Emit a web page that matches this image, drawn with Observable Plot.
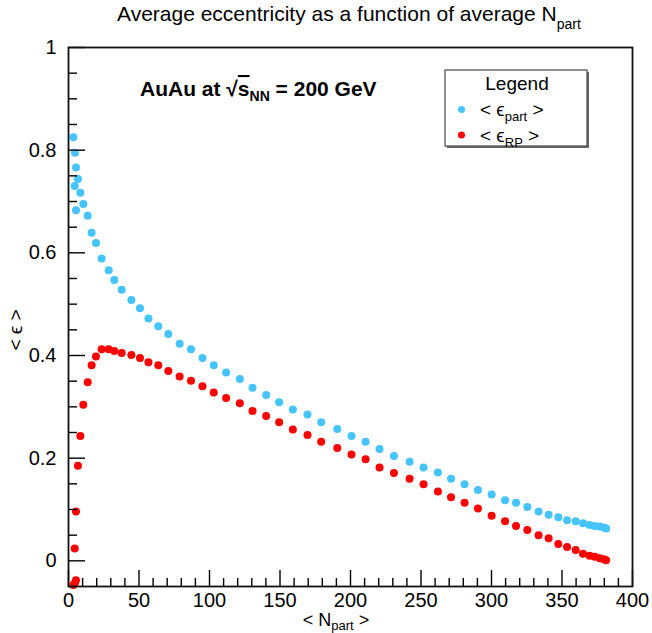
<!DOCTYPE html>
<html>
<head>
<meta charset="utf-8">
<script src="https://cdn.jsdelivr.net/npm/d3@7"></script>
<script src="https://cdn.jsdelivr.net/npm/@observablehq/plot@0.6"></script>
<style>
  html, body { margin: 0; padding: 0; background: white; }
  #chart { width: 652px; height: 633px; }
</style>
</head>
<body>
<div id="chart"></div>
<script>
// <N_part> per bin (shared by both series)
const nPart = [3.4, 4.6, 5.3, 6.7, 4.4, 8.4, 10.5, 5.3, 13.6,
  16.4, 19.5, 23.5, 28.5, 32.5, 37.7, 44.6, 50.7, 56.7,
  63.7, 70.8, 78.8, 86.9, 95.0, 103.0, 111.8, 121.5,
  130.5, 140.2, 149.4, 159.1, 169.5, 179.2, 190.6, 200.7, 210.7, 220.6,
  230.8, 241.9, 251.8, 262.0, 271.3, 280.9, 290.4, 300.1, 309.6, 317.4,
  325.4, 333.4, 340.5, 347.4, 353.6, 359.7, 364.9, 369.6, 373.2, 376.7,
  379.6, 381.3];

// <eps_part>
const epsPart = [0.825, 0.795, 0.766, 0.744, 0.730, 0.717, 0.695, 0.683, 0.672,
  0.639, 0.619, 0.589, 0.566, 0.547, 0.528, 0.508, 0.492, 0.472,
  0.457, 0.442, 0.423, 0.412, 0.395, 0.381, 0.367, 0.354,
  0.337, 0.323, 0.309, 0.295, 0.285, 0.270, 0.257, 0.243, 0.232, 0.218,
  0.204, 0.193, 0.182, 0.172, 0.160, 0.149, 0.138, 0.129, 0.118, 0.113,
  0.105, 0.096, 0.090, 0.085, 0.079, 0.077, 0.073, 0.070, 0.068, 0.067,
  0.065, 0.063];

// <eps_RP>
const epsRP = [-0.047, -0.043, -0.038, 0.185, 0.024, 0.243, 0.304, 0.096, 0.348,
  0.381, 0.398, 0.412, 0.412, 0.409, 0.405, 0.401, 0.395, 0.387,
  0.381, 0.370, 0.359, 0.351, 0.340, 0.328, 0.317, 0.307,
  0.292, 0.282, 0.270, 0.256, 0.245, 0.232, 0.220, 0.207, 0.198, 0.182,
  0.171, 0.160, 0.149, 0.135, 0.124, 0.113, 0.102, 0.088, 0.077, 0.068,
  0.060, 0.050, 0.044, 0.033, 0.027, 0.021, 0.014, 0.010, 0.008, 0.005,
  0.003, 0.001];

const xMajorTicks = [0, 50, 100, 150, 200, 250, 300, 350, 400];
const xMinorTicks = d3.range(0, 401, 10).filter(v => v % 50 !== 0);
const yMajorTicks = [0, 0.2, 0.4, 0.6, 0.8, 1];
const yMinorTicks = [-0.05, 0.05, 0.1, 0.15, 0.25, 0.3, 0.35, 0.45, 0.5, 0.55, 0.65, 0.7, 0.75, 0.85, 0.9, 0.95];

const colPart = "#45c4ff";
const colRP = "#ff0000";
const FONT = "'Liberation Sans', Arial, Helvetica, sans-serif";

const idx = d3.range(nPart.length);

const chart = Plot.plot({
  width: 652,
  height: 633,
  marginLeft: 68,
  marginRight: 20,
  marginTop: 47,
  marginBottom: 47,
  x: {domain: [0, 400]},
  y: {domain: [-0.05, 1]},
  style: {fontFamily: FONT, fontSize: "20px", color: "#000", background: "white", overflow: "visible"},
  marks: [
    Plot.dot(idx, {x: i => nPart[i], y: i => epsPart[i], r: 4, fill: colPart}),
    Plot.dot(idx, {x: i => nPart[i], y: i => epsRP[i], r: 4, fill: colRP}),
    Plot.axisX({ticks: xMinorTicks, tickSize: -8, text: null, strokeWidth: 1.4, label: null}),
    Plot.axisX({ticks: xMajorTicks, tickSize: -16, text: null, strokeWidth: 1.4, label: null}),
    Plot.axisX({ticks: xMajorTicks, tickSize: 0, tickPadding: 6, fontSize: 20, label: null, tickFormat: d => String(d)}),
    Plot.axisY({ticks: yMinorTicks, tickSize: -9, text: null, strokeWidth: 1.4, label: null}),
    Plot.axisY({ticks: yMajorTicks, tickSize: -17, text: null, strokeWidth: 1.4, label: null}),
    Plot.axisY({ticks: yMajorTicks, tickSize: 0, tickPadding: 12, fontSize: 20, label: null, tickFormat: d => String(d)}),
    Plot.frame({stroke: "#111", strokeWidth: 1.8})
  ]
});

const svg = d3.select(chart);

// Title
const title = svg.append("text")
  .attr("x", 117).attr("y", 21).attr("text-anchor", "start")
  .attr("font-family", FONT).attr("font-size", 21).attr("fill", "#000");
title.append("tspan").text("Average eccentricity as a function of average N");
title.append("tspan").attr("font-size", 14).attr("dy", 8).text("part");

// Annotation
const ann = svg.append("text")
  .attr("x", 140).attr("y", 96).attr("text-anchor", "start")
  .attr("font-family", FONT).attr("font-size", 21).attr("font-weight", "bold").attr("fill", "#000");
ann.append("tspan").text("AuAu at \u221A");
ann.append("tspan").attr("text-decoration", "overline").text("s");
ann.append("tspan").attr("font-size", 14).attr("dy", 5).text("NN");
ann.append("tspan").attr("dy", -5).text(" = 200 GeV");

// Y axis label
svg.append("text")
  .attr("transform", "translate(22,330) rotate(-90)")
  .attr("text-anchor", "middle")
  .attr("font-family", FONT).attr("font-size", 19).attr("fill", "#000")
  .text("< \u03F5 >");

// X axis label
const xl = svg.append("text")
  .attr("x", 336).attr("y", 626)
  .attr("text-anchor", "middle")
  .attr("font-family", FONT).attr("font-size", 18).attr("fill", "#000");
xl.append("tspan").text("< N");
xl.append("tspan").attr("font-size", 13).attr("dy", 4).text("part");
xl.append("tspan").attr("dy", -4).text(" >");

// Legend
const lg = svg.append("g").attr("font-family", FONT).attr("fill", "#000").attr("text-anchor", "start");
lg.append("rect").attr("x", 447).attr("y", 72).attr("width", 142).attr("height", 76)
  .attr("fill", "#666");
lg.append("rect").attr("x", 445).attr("y", 70).attr("width", 142).attr("height", 76)
  .attr("fill", "white").attr("stroke", "#555").attr("stroke-width", 1.3);
lg.append("text").attr("x", 517).attr("y", 90).attr("text-anchor", "middle")
  .attr("font-size", 19).text("Legend");
lg.append("circle").attr("cx", 461.5).attr("cy", 109.5).attr("r", 3.5).attr("fill", colPart);
const t1 = lg.append("text").attr("x", 480).attr("y", 116).attr("font-size", 19);
t1.append("tspan").text("< \u03F5");
t1.append("tspan").attr("font-size", 13).attr("dy", 5).text("part");
t1.append("tspan").attr("dy", -5).text(" >");
lg.append("circle").attr("cx", 461.5).attr("cy", 135).attr("r", 3.5).attr("fill", colRP);
const t2 = lg.append("text").attr("x", 480).attr("y", 142).attr("font-size", 19);
t2.append("tspan").text("< \u03F5");
t2.append("tspan").attr("font-size", 13).attr("dy", 5).text("RP");
t2.append("tspan").attr("dy", -5).text(" >");

document.getElementById("chart").appendChild(chart);
</script>
</body>
</html>
